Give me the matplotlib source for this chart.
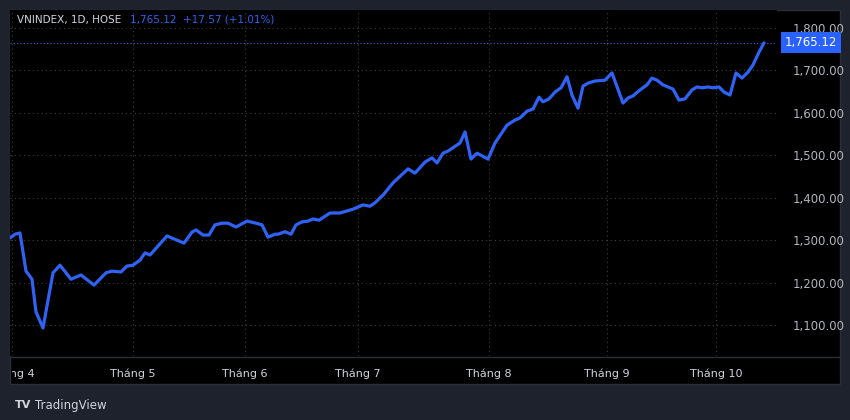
import matplotlib
matplotlib.use("Agg")
import matplotlib.pyplot as plt
from matplotlib.patches import Rectangle

plt.rcParams['font.family'] = ['DejaVu Sans']

# (time position, close) of each vertex; time in session-timeline units
series = [
    (10, 1305), (15, 1314), (20, 1317), (26, 1227), (32, 1208), (36, 1131), (43, 1093), (53, 1223),
    (60, 1241), (71, 1208), (81, 1218), (94, 1194), (106, 1223), (112, 1227), (121, 1225), (127, 1239),
    (133, 1241), (140, 1253), (145, 1270), (150, 1265), (167, 1310), (174, 1303), (184, 1293),
    (192, 1319), (196, 1324), (203, 1312), (209, 1312), (215, 1336), (222, 1340), (228, 1340),
    (236, 1331), (247, 1345), (256, 1340), (262, 1336), (268, 1307), (275, 1314), (278, 1314),
    (285, 1320), (291, 1314), (296, 1336), (302, 1343), (308, 1345), (313, 1350), (319, 1347),
    (330, 1364), (340, 1364), (353, 1373), (363, 1383), (370, 1380), (375, 1388), (383, 1406),
    (393, 1435), (408, 1468), (415, 1458), (425, 1484), (432, 1494), (437, 1482), (443, 1505),
    (448, 1510), (460, 1529), (465, 1555), (471, 1491), (477, 1505), (488, 1491), (495, 1529),
    (507, 1571), (515, 1583), (520, 1588), (527, 1604), (533, 1609), (539, 1637), (543, 1626),
    (549, 1633), (555, 1649), (561, 1659), (567, 1685), (572, 1642), (578, 1611), (583, 1663),
    (588, 1670), (595, 1675), (605, 1677), (612, 1694), (623, 1623), (628, 1635), (633, 1640),
    (640, 1654), (647, 1666), (652, 1682), (657, 1677), (663, 1666), (673, 1656), (679, 1630),
    (685, 1633), (692, 1654), (697, 1661), (702, 1659), (708, 1661), (713, 1659), (719, 1661),
    (724, 1649), (730, 1642), (736, 1694), (742, 1682), (748, 1696), (753, 1713), (759, 1743),
    (764, 1765),
]
times = [s[0] for s in series]
closes = [s[1] for s in series]
month_labels = ["Tháng 4", "Tháng 5", "Tháng 6", "Tháng 7", "Tháng 8", "Tháng 9", "Tháng 10"]
month_pos = [12, 133, 245, 358, 489, 607, 716]
price_ticks = [1100, 1200, 1300, 1400, 1500, 1600, 1700, 1800]
last_price = 1765.12

W, H = 850, 420
fig = plt.figure(figsize=(W/100, H/100), dpi=100)
fig.patch.set_facecolor('#1e222d')
fig.patches.append(Rectangle((10/W, (H-384)/H), 830/W, 374/H, transform=fig.transFigure,
                             facecolor='#000000', edgecolor='#2a2e39', lw=1, zorder=-10))
ax = fig.add_axes([10/W, (H-356)/H, 767/W, 346/H])
ax.set_facecolor('#000000')
ax.set_xlim(10, 777)
ax.set_ylim(1027, 1842.4)
for s in ax.spines.values():
    s.set_visible(False)
ax.set_yticks(price_ticks)
ax.set_xticks(month_pos)
ax.grid(True, color='#3a3e48', linestyle=(0, (1, 3)), lw=0.8)
ax.tick_params(left=False, bottom=False, labelbottom=False, right=False, labelleft=False,
               labelright=True, colors='#b2b5be', labelsize=8.5, pad=8)
ax.set_yticklabels([f"{v:,.2f}" for v in price_ticks])

ax.plot(times, closes, color='#2f63f5', lw=2.3, solid_joinstyle='round', solid_capstyle='round', zorder=3)
ax.axhline(last_price, color='#2f63f5', lw=0.8, linestyle=(0, (1, 2)))

ax.text(1.0104, last_price, f"{last_price:,.2f}", transform=ax.get_yaxis_transform(),
        color='white', fontsize=8.5, va='center', ha='left', clip_on=False,
        bbox=dict(boxstyle='square,pad=0.35', fc='#2962ff', ec='none'))

fig.add_artist(plt.Line2D([10/W, 840/W], [(H-357)/H]*2, color='#2a2e39', lw=1))

clip = Rectangle((12/W, 0), 1, 1, transform=fig.transFigure)
for lab, p in zip(month_labels, month_pos):
    t = ax.text(p, -0.052, lab, transform=ax.get_xaxis_transform(), color='#d1d4dc',
                fontsize=8, ha='center', va='center', clip_on=False)
    if p < 30:
        t.set_clip_on(True)
        t.set_clip_path(clip)

ax.text(0.009, 0.972, "VNINDEX, 1D, HOSE", transform=ax.transAxes, color='#d1d4dc',
        fontsize=7.5, va='center', ha='left')
ax.text(0.157, 0.972, "1,765.12  +17.57 (+1.01%)", transform=ax.transAxes, color='#2f63f5',
        fontsize=7.5, va='center', ha='left')

fig.text(15/W, (H-405)/H, "TV", color='#d1d4dc', fontsize=8, fontweight='bold', va='center')
fig.text(35/W, (H-405)/H, "TradingView", color='#d1d4dc', fontsize=8.5, va='center')

fig.savefig("out.png", dpi=100, facecolor=fig.get_facecolor())
